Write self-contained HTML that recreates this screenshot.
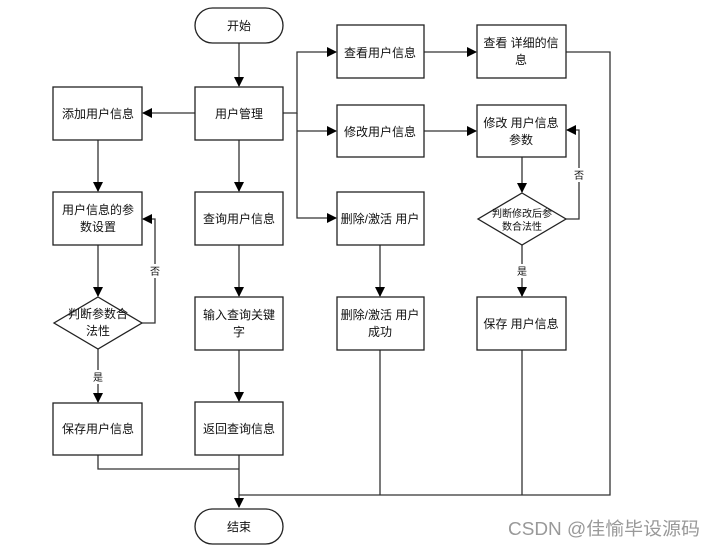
<!DOCTYPE html>
<html><head><meta charset="utf-8"><style>
body{margin:0;background:#fff;}
svg text{font-family:"Liberation Sans","Noto Sans CJK SC",sans-serif;font-size:12px;fill:#111;text-anchor:middle;}
</style></head><body>
<svg width="714" height="546" viewBox="0 0 714 546" xmlns="http://www.w3.org/2000/svg">
<defs><marker id="a" markerWidth="10" markerHeight="10" refX="9" refY="5" orient="auto" markerUnits="userSpaceOnUse"><path d="M0,0 L10,5 L0,10 z" fill="#000"/></marker></defs>
<g stroke="#333" stroke-width="1.3" fill="none">
<line x1="239" y1="43" x2="239" y2="86" marker-end="url(#a)"/>
<line x1="195" y1="113" x2="143" y2="113" marker-end="url(#a)"/>
<line x1="98" y1="140" x2="98" y2="191" marker-end="url(#a)"/>
<line x1="239" y1="140" x2="239" y2="191" marker-end="url(#a)"/>
<polyline points="283,113 297,113 297,52 336,52" marker-end="url(#a)"/>
<line x1="297" y1="131" x2="336" y2="131" marker-end="url(#a)"/>
<polyline points="297,113 297,218 336,218" marker-end="url(#a)"/>
<line x1="424" y1="52" x2="476" y2="52" marker-end="url(#a)"/>
<line x1="424" y1="131" x2="476" y2="131" marker-end="url(#a)"/>
<polyline points="566,52 610,52 610,495 239,495"/>
<line x1="522" y1="157" x2="522" y2="192" marker-end="url(#a)"/>
<polyline points="566,219 579,219 579,130 567,130" marker-end="url(#a)"/>
<line x1="522" y1="245" x2="522" y2="296" marker-end="url(#a)"/>
<line x1="522" y1="350" x2="522" y2="495"/>
<line x1="380" y1="245" x2="380" y2="296" marker-end="url(#a)"/>
<line x1="380" y1="350" x2="380" y2="495"/>
<line x1="98" y1="245" x2="98" y2="296" marker-end="url(#a)"/>
<polyline points="142,323 155,323 155,219 143,219" marker-end="url(#a)"/>
<line x1="98" y1="349" x2="98" y2="402" marker-end="url(#a)"/>
<line x1="239" y1="245" x2="239" y2="296" marker-end="url(#a)"/>
<line x1="239" y1="350" x2="239" y2="401" marker-end="url(#a)"/>
<polyline points="98,455 98,469 239,469"/>
<line x1="239" y1="455" x2="239" y2="507" marker-end="url(#a)"/>
</g>
<g stroke="#222" stroke-width="1.3" fill="#fff">
<rect x="195" y="8" width="88" height="35" rx="17.5"/>
<rect x="195" y="509" width="88" height="35" rx="17.5"/>
<rect x="195" y="87" width="88" height="53"/>
<rect x="53" y="87" width="89" height="53"/>
<rect x="53" y="192" width="89" height="53"/>
<rect x="195" y="192" width="88" height="53"/>
<rect x="195" y="297" width="88" height="53"/>
<rect x="195" y="402" width="88" height="53"/>
<rect x="53" y="403" width="89" height="52"/>
<rect x="337" y="25" width="87" height="53"/>
<rect x="477" y="25" width="89" height="53"/>
<rect x="337" y="105" width="87" height="52"/>
<rect x="477" y="105" width="89" height="52"/>
<rect x="337" y="192" width="87" height="53"/>
<rect x="337" y="297" width="87" height="53"/>
<rect x="477" y="297" width="89" height="53"/>
<polygon points="98,297 142,323 98,349 54,323"/>
<polygon points="522,193 566,219 522,245 478,219"/>
</g>
<rect x="148" y="264" width="14" height="14" fill="#fff"/>
<rect x="572" y="168" width="14" height="14" fill="#fff"/>
<rect x="91" y="370" width="14" height="14" fill="#fff"/>
<rect x="515" y="264" width="14" height="14" fill="#fff"/>
<text x="239" y="30">开始</text>
<text x="239" y="531">结束</text>
<text x="239" y="118">用户管理</text>
<text x="98" y="118">添加用户信息</text>
<text x="98" y="214">用户信息的参</text><text x="98" y="231">数设置</text>
<text x="239" y="223">查询用户信息</text>
<text x="239" y="319">输入查询关键</text><text x="239" y="336">字</text>
<text x="239" y="433">返回查询信息</text>
<text x="98" y="433">保存用户信息</text>
<text x="98" y="318">判断参数合</text><text x="98" y="335">法性</text>
<text x="155" y="275" style="font-size:10px">否</text>
<text x="98" y="381" style="font-size:10px">是</text>
<text x="380" y="57">查看用户信息</text>
<text x="521" y="47">查看 详细的信</text><text x="521" y="64">息</text>
<text x="380" y="136">修改用户信息</text>
<text x="521" y="127">修改 用户信息</text><text x="521" y="144">参数</text>
<text x="522" y="217" style="font-size:10px">判断修改后参</text><text x="522" y="230" style="font-size:10px">数合法性</text>
<text x="579" y="179" style="font-size:10px">否</text>
<text x="522" y="275" style="font-size:10px">是</text>
<text x="380" y="223">删除/激活 用户</text>
<text x="380" y="319">删除/激活 用户</text><text x="380" y="336">成功</text>
<text x="521" y="328">保存 用户信息</text>
<text x="508" y="535" textLength="192" lengthAdjust="spacingAndGlyphs" style="font-size:18px;fill:#999;text-anchor:start">CSDN @佳愉毕设源码</text>
</svg>
</body></html>
